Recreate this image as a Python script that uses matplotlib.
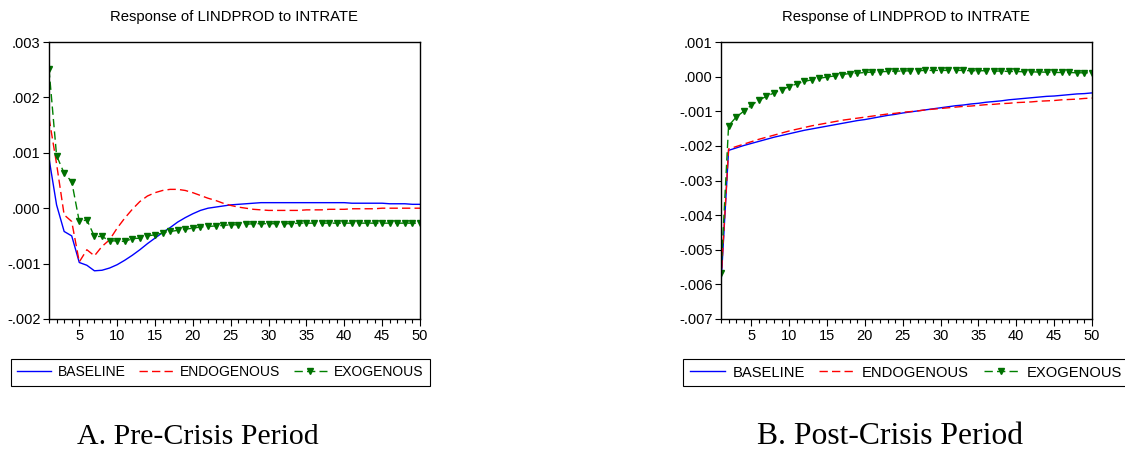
import numpy as np
import matplotlib
matplotlib.use("Agg")
import matplotlib.pyplot as plt
from matplotlib.ticker import FuncFormatter, MultipleLocator

plt.rcParams["font.family"] = ["Liberation Sans", "DejaVu Sans"]

periods = np.arange(1, 51)

# impulse responses, pre-crisis sample
pre_baseline = [
    0.00090, 0.00006, -0.00042, -0.00050, -0.00098, -0.00103, -0.00113, -0.00112, -0.00108, -0.00102,
    -0.00094, -0.00085, -0.00075, -0.00064, -0.00054, -0.00044, -0.00035, -0.00025, -0.00017, -0.00010,
    -0.00004, 0.00000, 0.00002, 0.00004, 0.00006, 0.00007, 0.00008, 0.00009, 0.00010, 0.00010,
    0.00010, 0.00010, 0.00010, 0.00010, 0.00010, 0.00010, 0.00010, 0.00010, 0.00010, 0.00010,
    0.00009, 0.00009, 0.00009, 0.00009, 0.00009, 0.00008, 0.00008, 0.00008, 0.00007, 0.00007,
]
pre_endogenous = [
    0.00163, 0.00080, -0.00012, -0.00024, -0.00097, -0.00075, -0.00086, -0.00069, -0.00057, -0.00036,
    -0.00018, -0.00002, 0.00012, 0.00022, 0.00028, 0.00032, 0.00034, 0.00034, 0.00032, 0.00028,
    0.00023, 0.00018, 0.00014, 0.00009, 0.00005, 0.00002, 0.00000, -0.00002, -0.00003, -0.00004,
    -0.00004, -0.00004, -0.00004, -0.00004, -0.00003, -0.00003, -0.00003, -0.00002, -0.00002, -0.00002,
    -0.00001, -0.00001, -0.00001, -0.00001, 0.00000, 0.00000, 0.00000, 0.00000, 0.00000, 0.00000,
]
pre_exogenous = [
    0.00251, 0.00095, 0.00063, 0.00048, -0.00024, -0.00021, -0.00051, -0.00051, -0.00059, -0.00059,
    -0.00060, -0.00055, -0.00054, -0.00050, -0.00048, -0.00045, -0.00042, -0.00040, -0.00038, -0.00036,
    -0.00034, -0.00033, -0.00032, -0.00031, -0.00030, -0.00030, -0.00029, -0.00028, -0.00028, -0.00028,
    -0.00028, -0.00028, -0.00028, -0.00027, -0.00027, -0.00027, -0.00027, -0.00027, -0.00027, -0.00027,
    -0.00027, -0.00027, -0.00027, -0.00027, -0.00027, -0.00027, -0.00027, -0.00027, -0.00027, -0.00027,
]

# impulse responses, post-crisis sample
post_baseline = [
    -0.00600, -0.00213, -0.00206, -0.00199, -0.00193, -0.00187, -0.00181, -0.00175, -0.00170, -0.00165,
    -0.00160, -0.00155, -0.00151, -0.00147, -0.00143, -0.00139, -0.00135, -0.00131, -0.00127, -0.00124,
    -0.00120, -0.00116, -0.00112, -0.00109, -0.00105, -0.00102, -0.00099, -0.00096, -0.00093, -0.00090,
    -0.00087, -0.00084, -0.00082, -0.00079, -0.00077, -0.00074, -0.00072, -0.00070, -0.00067, -0.00065,
    -0.00063, -0.00061, -0.00059, -0.00057, -0.00056, -0.00054, -0.00052, -0.00050, -0.00049, -0.00047,
]
post_endogenous = [
    -0.00590, -0.00209, -0.00202, -0.00195, -0.00188, -0.00181, -0.00175, -0.00169, -0.00163, -0.00157,
    -0.00152, -0.00147, -0.00142, -0.00138, -0.00134, -0.00130, -0.00126, -0.00123, -0.00120, -0.00117,
    -0.00114, -0.00111, -0.00108, -0.00106, -0.00103, -0.00101, -0.00099, -0.00096, -0.00094, -0.00092,
    -0.00090, -0.00088, -0.00086, -0.00085, -0.00083, -0.00081, -0.00080, -0.00078, -0.00077, -0.00075,
    -0.00074, -0.00073, -0.00071, -0.00070, -0.00069, -0.00067, -0.00066, -0.00065, -0.00063, -0.00062,
]
post_exogenous = [
    -0.00567, -0.00142, -0.00117, -0.00100, -0.00083, -0.00068, -0.00057, -0.00047, -0.00038, -0.00029,
    -0.00021, -0.00014, -0.00009, -0.00005, -0.00001, 0.00002, 0.00006, 0.00009, 0.00010, 0.00012,
    0.00013, 0.00014, 0.00015, 0.00016, 0.00016, 0.00017, 0.00017, 0.00018, 0.00018, 0.00018,
    0.00018, 0.00018, 0.00018, 0.00017, 0.00017, 0.00017, 0.00016, 0.00016, 0.00015, 0.00015,
    0.00014, 0.00014, 0.00013, 0.00013, 0.00012, 0.00012, 0.00012, 0.00011, 0.00011, 0.00011,
]

series_names = ["BASELINE", "ENDOGENOUS", "EXOGENOUS"]
title = "Response of LINDPROD to INTRATE"
captions = ["A. Pre-Crisis Period", "B. Post-Crisis Period"]
y_limits = [(-0.002, 0.003), (-0.007, 0.001)]


def eviews_fmt(v, pos):
    s = f"{v:.3f}"
    if s.startswith("-0"):
        s = "-" + s[2:]
    elif s.startswith("0"):
        s = s[1:]
    if s == "-.000":
        s = ".000"
    return s


def draw_panel(ax, base, endo, exo, ylim):
    ax.plot(periods, base, color="#0000ff", lw=1.0, label=series_names[0])
    ax.plot(periods, endo, color="#ff0000", lw=1.0, dashes=(6, 3), label=series_names[1])
    ax.plot(periods, exo, color="#008000", lw=1.0, dashes=(6, 3), marker="v",
            markersize=4.5, markerfacecolor="#007000", markeredgecolor="#007000",
            label=series_names[2])
    ax.set_xlim(1, 50)
    ax.set_ylim(*ylim)
    ax.set_title(title, fontsize=10.7, pad=15)
    ax.xaxis.set_major_locator(MultipleLocator(5))
    ax.xaxis.set_minor_locator(MultipleLocator(1))
    ax.yaxis.set_major_locator(MultipleLocator(0.001))
    ax.yaxis.set_major_formatter(FuncFormatter(eviews_fmt))
    ax.tick_params(axis="both", which="major", direction="out", length=5, width=0.8,
                   labelsize=10.5, pad=2, colors="black")
    ax.tick_params(axis="x", which="minor", direction="out", length=3, width=0.8)
    ax.tick_params(axis="y", which="major", length=4)
    for sp in ax.spines.values():
        sp.set_linewidth(1.0)
        sp.set_color("black")


fig = plt.figure(figsize=(11.25, 4.53), dpi=100)
W, H = 1125, 453

ax_a = fig.add_axes([49 / W, 1 - 319 / H, 371 / W, 277 / H])
ax_b = fig.add_axes([721 / W, 1 - 319 / H, 371 / W, 277 / H])

draw_panel(ax_a, pre_baseline, pre_endogenous, pre_exogenous, y_limits[0])
draw_panel(ax_b, post_baseline, post_endogenous, post_exogenous, y_limits[1])

legend_kw = dict(loc="upper left", bbox_transform=fig.transFigure, ncol=3,
                 frameon=True, fancybox=False, edgecolor="black", framealpha=1,
                 handlelength=2.4, handletextpad=0.5, columnspacing=1.0,
                 borderpad=0.45, borderaxespad=0)
leg_a = ax_a.legend(bbox_to_anchor=(11 / W, 1 - 359 / H), fontsize=10, **legend_kw)
leg_b = ax_b.legend(bbox_to_anchor=(683 / W, 1 - 359 / H), fontsize=10.6, **legend_kw)
for leg in (leg_a, leg_b):
    leg.get_frame().set_linewidth(0.8)

serif = ["Liberation Serif", "DejaVu Serif"]
fig.text(198 / W, 1 - 437 / H, captions[0], ha="center", va="center",
         fontsize=21.5, family=serif)
fig.text(890 / W, 1 - 437 / H, captions[1], ha="center", va="center",
         fontsize=22.8, family=serif)

fig.savefig("out.png", dpi=100)
